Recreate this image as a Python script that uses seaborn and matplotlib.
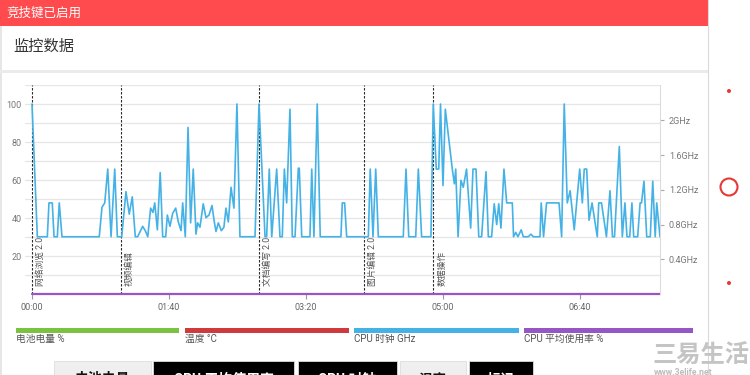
import matplotlib
matplotlib.use("Agg")
import matplotlib.pyplot as plt
import matplotlib.transforms as mtransforms
from matplotlib.patches import Rectangle, Ellipse
from matplotlib.lines import Line2D
import pandas as pd
import seaborn as sns

sns.set_theme(style="white")
plt.rcParams["font.family"] = ["Roboto", "Noto Sans CJK SC", "DejaVu Sans"]

# ---------------- data ----------------
times_s = [0, 3.9, 11.2, 12.4, 14.8, 16.1, 18.5, 19.9, 21.9, 49.1,
           51.1, 53.1, 55.3, 57.7, 60.4, 62.3, 65.5, 68.6, 71.0, 73.2,
           75.4, 77.1, 80.8, 83.0, 84.5, 86.6, 88.3, 89.6, 91.5, 93.6,
           95.4, 97.6, 98.8, 100.7, 102.7, 104.9, 106.8, 108.8, 110.0, 111.9,
           113.9, 115.8, 117.7, 119.7, 120.9, 122.6, 125.0, 127.0, 129.2, 131.4,
           133.1, 134.3, 136.0, 138.2, 140.1, 141.6, 143.3, 145.3, 147.4, 149.6,
           151.8, 162.8, 165.7, 170.1, 171.3, 173.2, 175.0, 178.6, 181.0, 182.7,
           184.2, 185.9, 188.3, 190.0, 192.0, 194.4, 195.1, 196.9, 202.9, 204.2,
           205.8, 208.2, 210.4, 225.5, 226.5, 228.2, 229.7, 245.5, 246.9, 248.9,
           250.9, 252.8, 271.0, 273.0, 275.0, 280.1, 282.0, 284.4, 291.2, 292.9,
           295.1, 296.9, 298.2, 300.0, 301.7, 306.8, 308.3, 309.3, 311.0, 313.1,
           314.8, 317.2, 320.2, 321.9, 324.1, 326.1, 328.2, 331.4, 333.1, 335.5,
           337.4, 339.2, 340.7, 342.3, 344.5, 346.5, 350.6, 351.5, 353.1, 354.7,
           357.1, 358.6, 362.3, 364.2, 365.9, 370.8, 371.7, 373.4, 375.6, 384.7,
           386.6, 388.5, 390.7, 392.8, 395.8, 399.8, 401.7, 403.1, 404.9, 406.6,
           408.8, 412.6, 413.7, 415.7, 419.3, 421.9, 423.7, 425.2, 428.7, 430.9,
           432.8, 434.3, 436.3, 437.9, 439.2, 442.1, 443.9, 444.9, 446.7, 448.7,
           451.3, 453.1, 454.9, 456.0, 458.4]

cpu_clock_ghz = [2.19, 0.66, 0.66, 1.05, 1.05, 0.66, 0.66, 1.05, 0.66, 0.66,
                 1.00, 1.05, 1.44, 0.66, 1.44, 0.66, 0.66, 1.18, 0.92, 1.12,
                 0.66, 0.66, 0.78, 0.72, 0.66, 0.99, 0.94, 1.05, 0.74, 1.40,
                 0.66, 0.66, 0.91, 0.78, 0.93, 0.99, 0.83, 0.73, 1.05, 0.66,
                 1.92, 0.82, 1.44, 0.69, 0.82, 0.77, 1.04, 0.88, 0.91, 1.02,
                 0.83, 0.72, 0.82, 0.73, 0.77, 0.99, 0.83, 1.23, 0.99, 2.19,
                 0.66, 0.66, 2.19, 0.66, 0.66, 1.44, 0.66, 1.44, 0.66, 0.66,
                 1.44, 1.05, 2.13, 0.66, 0.66, 1.45, 1.45, 0.66, 0.66, 1.44,
                 0.66, 2.19, 0.66, 0.66, 1.05, 1.05, 0.66, 0.66, 1.44, 0.66,
                 1.44, 0.66, 0.66, 1.44, 0.66, 0.66, 1.44, 0.66, 0.66, 2.19,
                 1.44, 1.44, 2.19, 1.25, 2.13, 1.44, 1.27, 1.44, 0.66, 1.31,
                 1.23, 1.44, 0.76, 1.44, 1.44, 0.66, 0.66, 1.41, 0.66, 0.66,
                 1.04, 0.80, 1.04, 0.76, 1.44, 1.05, 1.05, 0.66, 0.71, 0.66,
                 0.74, 0.66, 0.66, 0.69, 0.66, 0.66, 1.05, 0.66, 1.05, 1.05,
                 0.66, 2.19, 1.05, 1.19, 0.74, 1.44, 1.05, 1.44, 1.44, 0.85,
                 1.05, 0.66, 1.05, 1.05, 0.66, 1.19, 0.66, 0.66, 1.70, 0.66,
                 1.05, 0.66, 0.66, 1.05, 0.66, 0.66, 1.05, 1.05, 1.30, 0.66,
                 0.66, 1.30, 0.66, 1.05, 0.66]

usage_times_s = [0, 458.4]
cpu_usage_pct = [0, 0]

event_times_s = [0, 65, 166, 242.3, 293]
event_labels = ["网络浏览 2.0", "视频编辑", "文档编写 2.0", "图片编辑 2.0", "数据操作"]

left_ticks = [0, 10, 20, 30, 40, 50, 60, 70, 80, 90, 100, 110]
left_tick_labels = ["", "", "20", "", "40", "", "60", "", "80", "", "100", ""]
right_ticks = [0.4, 0.8, 1.2, 1.6, 2.0]
right_tick_labels = ["0.4GHz", "0.8GHz", "1.2GHz", "1.6GHz", "2GHz"]
x_ticks = [0, 100, 200, 300, 400]
x_tick_labels = ["00:00", "01:40", "03:20", "05:00", "06:40"]

legend_labels = ["电池电量 %", "温度 °C", "CPU 时钟 GHz", "CPU 平均使用率 %"]
legend_colors = ["#7BC142", "#D13A3C", "#45B2E6", "#9656C6"]
button_labels = ["电池电量", "CPU 平均使用率", "CPU 时钟", "温度", "标记"]

header_text = "竞技键已启用"
title_text = "监控数据"

W, H = 750, 375
fig = plt.figure(figsize=(7.5, 3.75), dpi=100, facecolor="white")


def fx(x):
    return x / W


def fy(y):
    return 1 - y / H


def rect(x0, y0, x1, y1, **kw):
    fig.add_artist(Rectangle((fx(x0), fy(y1)), fx(x1) - fx(x0), fy(y0) - fy(y1),
                             transform=fig.transFigure, **kw))


def ftext(x, y, s, **kw):
    fig.text(fx(x), fy(y), s, **kw)


# ---------------- page chrome ----------------
rect(0, 0, 708, 26, facecolor="#FF4B4E", edgecolor="none")
ftext(6, 13.5, header_text, color="white", fontsize=9, va="center", ha="left")
rect(0, 26, 2, 375, facecolor="#E6E6E6", edgecolor="none")
rect(0, 70, 708, 73, facecolor="#EBEBEB", edgecolor="none")
fig.add_artist(Line2D([fx(708), fx(708)], [0, 1], transform=fig.transFigure,
                      color="#DADADA", lw=0.8))
ftext(13, 47, title_text, color="#333333", fontsize=11, va="center", ha="left")

# side controls
for yy in (91, 283):
    fig.add_artist(Ellipse((fx(729), fy(yy)), 4 / W, 4 / H, transform=fig.transFigure,
                           facecolor="#E53935", edgecolor="none"))
fig.add_artist(Ellipse((fx(729), fy(187)), 17 / W, 17 / H, transform=fig.transFigure,
                       facecolor="none", edgecolor="#E53935", lw=1.5))

# ---------------- chart ----------------
ax = fig.add_axes([fx(25), fy(294), (660 - 25) / W, (294 - 85) / H])
ax.set_facecolor("none")
ax.set_xlim(-5.1, 458.4)
ax.set_ylim(0, 110)
ax.set_yticks(left_ticks)
ax.set_yticklabels(left_tick_labels)
ax.set_xticks(x_ticks)
ax.set_xticklabels(x_tick_labels)
ax.grid(axis="y", color="#E6E6E6", lw=0.9)
ax.grid(axis="x", visible=False)
for s in ax.spines.values():
    s.set_visible(False)
ax.tick_params(axis="y", left=False, length=0, pad=2.2, labelsize=6.5, labelcolor="#777777")
ax.tick_params(axis="x", bottom=True, length=3.6, width=0.8, color="#999999", pad=3,
               labelsize=6.5, labelcolor="#666666")

usage_df = pd.DataFrame({"t": usage_times_s, "v": cpu_usage_pct})
sns.lineplot(data=usage_df, x="t", y="v", ax=ax, color=legend_colors[3], lw=1.6,
             clip_on=False, zorder=4)

trans = mtransforms.blended_transform_factory(ax.transData, ax.transAxes)
for t, lab in zip(event_times_s, event_labels):
    ax.axvline(t, color="#2A2A2A", lw=0.8, ls=(0, (2.2, 1.4)), zorder=3)
    ax.annotate(lab, xy=(t, 0.04), xycoords=trans, xytext=(4, 0),
                textcoords="offset pixels", rotation=90, ha="left", va="bottom",
                fontsize=6.3, color="#555555")
ax.set_xlabel("")
ax.set_ylabel("")

ax2 = ax.twinx()
ax2.set_ylim(0, 2.409)
clock_df = pd.DataFrame({"t": times_s, "ghz": cpu_clock_ghz})
sns.lineplot(data=clock_df, x="t", y="ghz", ax=ax2, color=legend_colors[2], lw=1.2,
             zorder=5)
ax2.set_xlim(-5.1, 458.4)
ax2.set_yticks(right_ticks)
ax2.set_yticklabels(right_tick_labels)
ax2.grid(False)
for k, s in ax2.spines.items():
    s.set_visible(k == "right")
ax2.spines["right"].set_color("#DCDCDC")
ax2.spines["right"].set_linewidth(0.8)
ax2.tick_params(axis="y", right=True, length=3.2, width=0.8, color="#AAAAAA", pad=3.2,
                labelsize=6.5, labelcolor="#777777")
ax2.set_xlabel("")
ax2.set_ylabel("")

# ---------------- legend strip ----------------
legend_x = [(16, 179), (185, 349), (354, 519), (524, 693)]
for (x0, x1), col, lab in zip(legend_x, legend_colors, legend_labels):
    rect(x0, 327.5, x1, 333, facecolor=col, edgecolor="none")
    ftext(x0, 339, lab, color="#555555", fontsize=7, va="center", ha="left")

# ---------------- buttons (cut off at bottom, as in the screenshot) ----------------
buttons = [(54, 151, "#EFEFEF", "#111111"), (153, 294, "#000000", "white"),
           (298, 397, "#000000", "white"), (400, 465.5, "#EFEFEF", "#111111"),
           (469, 532.5, "#000000", "white")]
for (x0, x1, bg, fg), lab in zip(buttons, button_labels):
    rect(x0, 361, x1, 380, facecolor=bg, edgecolor="#DDDDDD", lw=0.6)
    ftext((x0 + x1) / 2, 379.5, lab, color=fg, fontsize=10, va="center", ha="center",
          fontweight="bold")

# ---------------- watermark ----------------
ftext(652, 356, "三易生活", color="#C4C4C4", fontsize=17.5, fontweight="bold",
      va="center", ha="left")
ftext(654, 372.2, "www.3elife.net", color="#BDBDBD", fontsize=6.3, fontweight="bold",
      va="center", ha="left")

fig.savefig("out.png", dpi=100, facecolor="white")
